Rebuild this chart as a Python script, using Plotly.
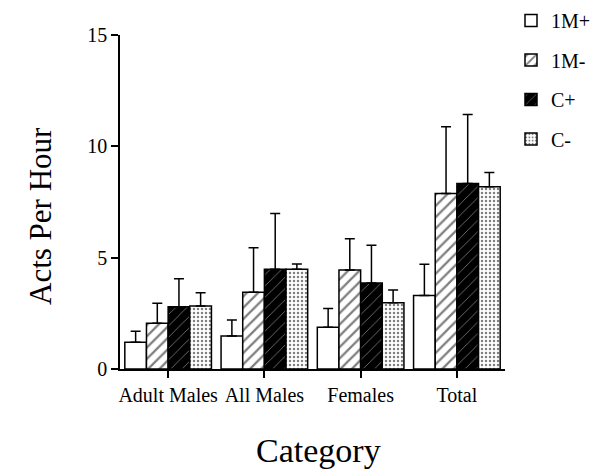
import plotly.graph_objects as go

categories = ["Adult Males", "All Males", "Females", "Total"]
series_names = ["1M+", "1M-", "C+", "C-"]
m1_plus = [1.2, 1.48, 1.87, 3.3]
m1_plus_err = [0.5, 0.72, 0.85, 1.4]
m1_minus = [2.05, 3.45, 4.45, 7.88]
m1_minus_err = [0.9, 2.0, 1.4, 3.0]
c_plus = [2.8, 4.48, 3.86, 8.33]
c_plus_err = [1.25, 2.5, 1.7, 3.1]
c_minus = [2.83, 4.48, 2.98, 8.18]
c_minus_err = [0.6, 0.23, 0.57, 0.64]

values = [m1_plus, m1_minus, c_plus, c_minus]
errors = [m1_plus_err, m1_minus_err, c_plus_err, c_minus_err]

styles = [
    dict(color="white", pattern=dict(shape="")),
    dict(color="white", pattern=dict(shape="/", fgcolor="black", bgcolor="white", size=8, solidity=0.28)),
    dict(color="black", pattern=dict(shape="/", fgcolor="white", bgcolor="black", size=8, solidity=0.1)),
    dict(color="white", pattern=dict(shape=".", fgcolor="black", bgcolor="white", size=4, solidity=0.3)),
]

W, H = 602, 474
PL, PR, PT, PB = 120, 505, 35, 369

FONT = "Liberation Serif"
fig = go.Figure()
for name, vals, errs, st in zip(series_names, values, errors, styles):
    fig.add_trace(go.Bar(
        name=name, x=categories, y=vals, legendgroup=name,
        marker=dict(color=st["color"], pattern=st["pattern"],
                    line=dict(color="black", width=1.5)),
        error_y=dict(type="data", symmetric=False, array=errs,
                     arrayminus=[0] * len(errs), color="black",
                     thickness=1.5, width=5),
    ))

fig.update_layout(
    width=W, height=H,
    margin=dict(l=0, r=0, t=0, b=0, autoexpand=False),
    paper_bgcolor="white", plot_bgcolor="white",
    barmode="group", bargap=0.1, bargroupgap=0,
    font=dict(family=FONT, color="black"),
    showlegend=True,
    legend=dict(xref="container", yref="container", x=511 / W, xanchor="left",
                y=1 - 1 / H, yanchor="top",
                font=dict(family=FONT, size=20, color="black"),
                tracegroupgap=10.5, bgcolor="rgba(0,0,0,0)"),
    xaxis=dict(domain=[PL / W, PR / W], range=[-0.5, 3.5], showline=True,
               linecolor="black", linewidth=1.5, automargin=False,
               ticks="outside", ticklen=7, tickwidth=1.5, tickcolor="black",
               tickfont=dict(family=FONT, size=20), showgrid=False, zeroline=False),
    yaxis=dict(domain=[1 - PB / H, 1 - PT / H], range=[0, 15], tickvals=[0, 5, 10, 15],
               showline=True, linecolor="black", automargin=False,
               linewidth=1.5, ticks="outside", ticklen=7, tickwidth=1.5, tickcolor="black",
               tickfont=dict(family=FONT, size=20), showgrid=False, zeroline=False),
    annotations=[
        dict(text="Category", xref="paper", yref="paper", x=318 / W, y=1 - 450 / H,
             xanchor="center", yanchor="middle", showarrow=False,
             font=dict(family=FONT, size=34)),
        dict(text="Acts Per Hour", xref="paper", yref="paper", x=40 / W, y=1 - 216 / H,
             xanchor="center", yanchor="middle", showarrow=False, textangle=-90,
             font=dict(family=FONT, size=31)),
    ],
)

fig.write_html("out.html")
